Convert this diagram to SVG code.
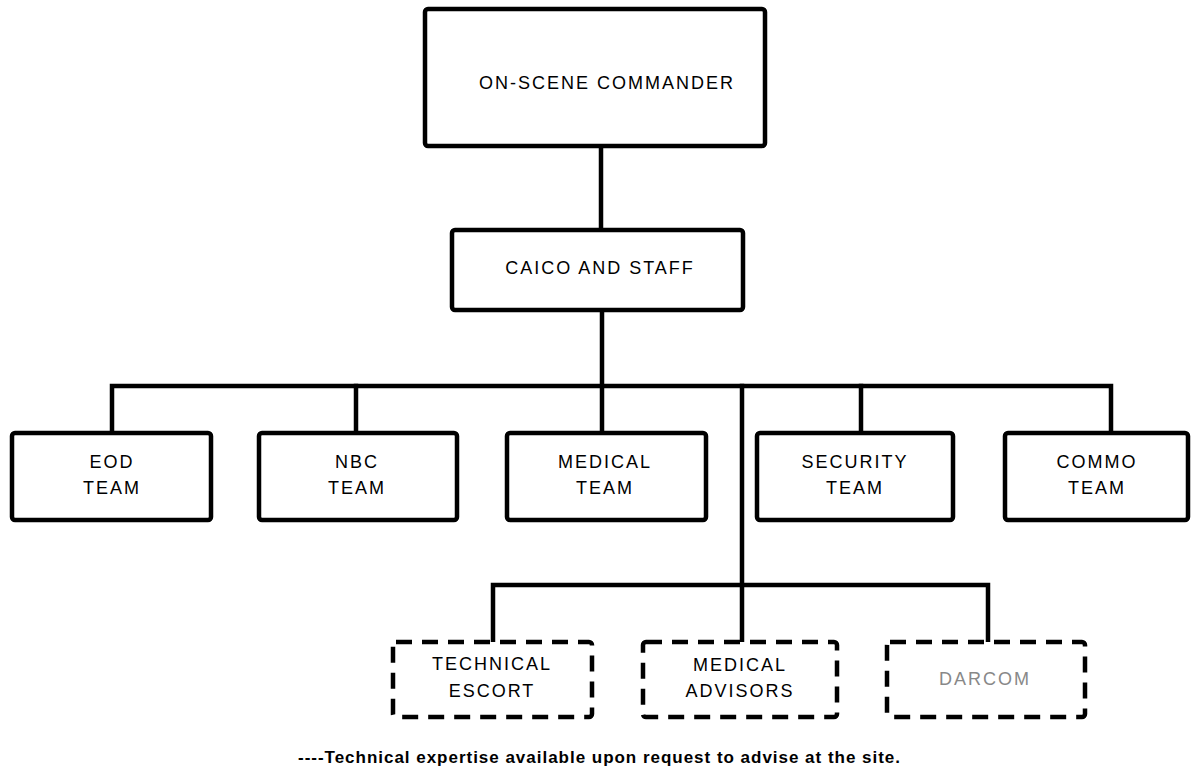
<svg xmlns="http://www.w3.org/2000/svg" width="1198" height="782" viewBox="0 0 1198 782">
<style>
.box{fill:#fff;stroke:#000;stroke-width:4.5}
.dbox{fill:#fff;stroke:#000;stroke-width:4.5;stroke-dasharray:16 10}
.ln{fill:none;stroke:#000;stroke-width:4.5;stroke-linecap:square}
.t{font-family:"Liberation Sans",Arial,sans-serif;font-size:18px;letter-spacing:2px;text-anchor:middle;fill:#000}
.g{fill:#888;font-weight:normal;letter-spacing:2px}
.foot{font-family:"Liberation Sans",Arial,sans-serif;font-size:17px;font-weight:bold;fill:#000}
</style>
<rect width="1198" height="782" fill="#fff"/>
<g id="connectors">
<line class="ln" x1="601" y1="146" x2="601" y2="230"/>
<line class="ln" x1="602" y1="310" x2="602" y2="433"/>
<polyline class="ln" points="112,433 112,386 1111,386 1111,433"/>
<line class="ln" x1="356" y1="386" x2="356" y2="433"/>
<line class="ln" x1="861" y1="386" x2="861" y2="433"/>
<line class="ln" x1="742" y1="386" x2="742" y2="642"/>
<polyline class="ln" points="493,642 493,585 988,585 988,642"/>
</g>
<g id="commander"><rect class="box" x="425" y="9" width="340" height="137" rx="3"/><text class="t" x="607" y="89">ON-SCENE COMMANDER</text></g>
<g id="caico"><rect class="box" x="452" y="230" width="291" height="80" rx="3"/><text class="t" x="600" y="274">CAICO AND STAFF</text></g>
<g id="eod"><rect class="box" x="12" y="433" width="199" height="87" rx="3"/><text class="t" x="112" y="468">EOD</text><text class="t" x="112" y="494">TEAM</text></g>
<g id="nbc"><rect class="box" x="259" y="433" width="198" height="87" rx="3"/><text class="t" x="357" y="468">NBC</text><text class="t" x="357" y="494">TEAM</text></g>
<g id="medical"><rect class="box" x="507" y="433" width="199" height="87" rx="3"/><text class="t" x="605" y="468">MEDICAL</text><text class="t" x="605" y="494">TEAM</text></g>
<g id="security"><rect class="box" x="757" y="433" width="196" height="87" rx="3"/><text class="t" x="855" y="468">SECURITY</text><text class="t" x="855" y="494">TEAM</text></g>
<g id="commo"><rect class="box" x="1005" y="433" width="183" height="87" rx="3"/><text class="t" x="1097" y="468">COMMO</text><text class="t" x="1097" y="494">TEAM</text></g>
<g id="technical"><rect class="dbox" x="393" y="642" width="199" height="75" rx="3"/><text class="t" x="492" y="670">TECHNICAL</text><text class="t" x="492" y="697">ESCORT</text></g>
<g id="advisors"><rect class="dbox" x="643" y="642" width="194" height="75" rx="3"/><text class="t" x="740" y="671">MEDICAL</text><text class="t" x="740" y="697">ADVISORS</text></g>
<g id="darcom"><rect class="dbox" x="887" y="642" width="198" height="75" rx="3"/><text class="t g" x="985" y="685">DARCOM</text></g>
<text class="foot" x="298" y="763" textLength="602">----Technical expertise available upon request to advise at the site.</text>
</svg>
